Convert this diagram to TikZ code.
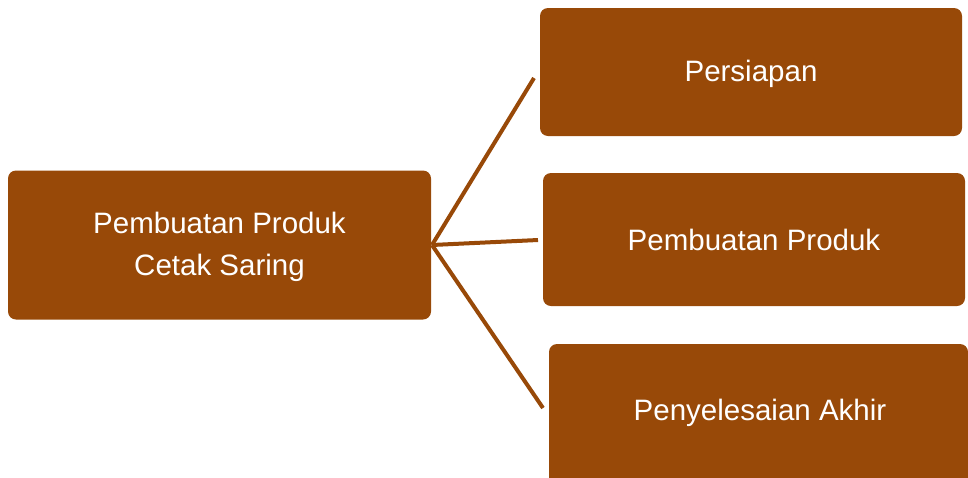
\documentclass[tikz,border=0pt]{standalone}
\usepackage{fontspec}
\setmainfont{Liberation Sans}
\definecolor{boxbrown}{RGB}{152,73,8}
\begin{document}
\begin{tikzpicture}[x=1pt,y=-1pt,
  box/.style={rectangle, rounded corners=8pt, fill=boxbrown, draw=none, inner sep=0pt},
  lbl/.style={text=white, inner sep=0pt, align=center,
    font=\fontsize{29.5}{42}\selectfont},
  link/.style={draw=boxbrown, line width=4pt, line cap=butt}]
\useasboundingbox (0,0) rectangle (968,477);
\node[box, minimum width=423pt, minimum height=149pt] (L) at (219.5,245) {};
\node[box, minimum width=422pt, minimum height=128pt] (A) at (751,72) {};
\node[box, minimum width=422pt, minimum height=133pt] (B) at (754,239.5) {};
\node[box, minimum width=419pt, minimum height=144pt] (C) at (758.5,416) {};
\node[lbl, yshift=-2pt] (Lt) at (L.center) {Pembuatan Produk\\Cetak Saring};
\node[lbl, yshift=-1.5pt] (At) at (A.center) {Persiapan};
\node[lbl, yshift=-0.5pt] (Bt) at (B.center) {Pembuatan Produk};
\node[lbl] (Ct) at (760,413) {Penyelesaian Akhir};
\coordinate (J) at (432,245);
\coordinate (ea) at (534,78);
\coordinate (eb) at (538,240);
\coordinate (ec) at (543,408);
\draw[link] (J) -- (ea);
\draw[link] (J) -- (eb);
\draw[link] (J) -- (ec);
\end{tikzpicture}
\end{document}
